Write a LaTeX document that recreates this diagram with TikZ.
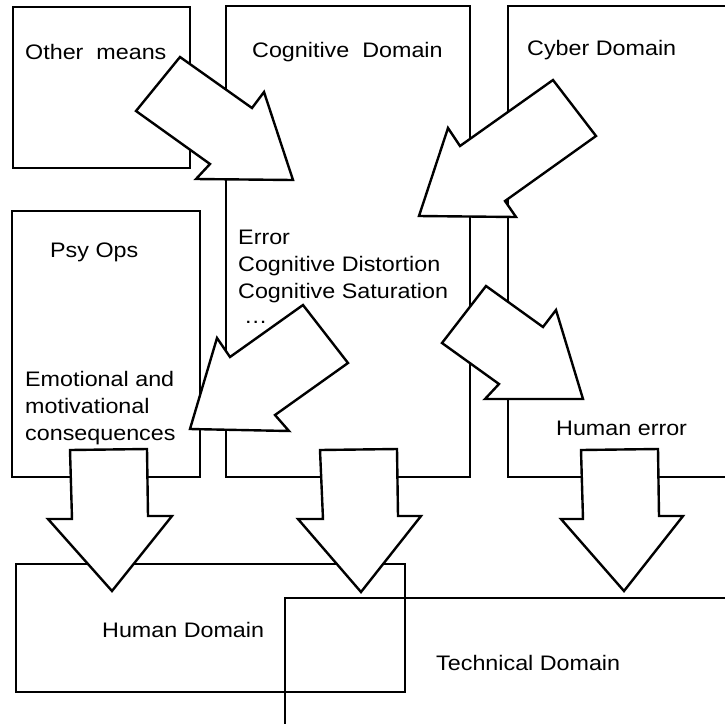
\documentclass[tikz,border=0pt]{standalone}
\usepackage{fontspec}
\setmainfont{Liberation Sans}[FakeStretch=1.11]
\begin{document}
\begin{tikzpicture}[x=1pt,y=-1pt,
  box/.style={line width=1.2pt},
  blockarrow/.style={draw=black, fill=white, line width=2.4pt, line join=miter},
  lbl/.style={anchor=base west, inner sep=0pt, font=\fontsize{21}{26}\selectfont}]
\useasboundingbox (0,0) rectangle (725,724);
% boxes
\draw[box] (13,7) rectangle (190,168);
\draw[box] (226,6) rectangle (470,477);
\draw[box] (725,6) -- (508,6) -- (508,477) -- (725,477);
\draw[box] (12,211) rectangle (200,477);
\draw[box] (16,564) rectangle (405,692);
\draw[box] (725,598) -- (285,598) -- (285,724);
% labels
\node[lbl] (other) at (25,59) {Other\ \ means};
\node[lbl] (cog) at (252,57) {Cognitive\ \ Domain};
\node[lbl] (cyber) at (527,55) {Cyber Domain};
\node[lbl] (psy) at (50,257) {Psy Ops};
\node[lbl] (err1) at (238,244) {Error};
\node[lbl] (err2) at (238,271) {Cognitive Distortion};
\node[lbl] (err3) at (238,298) {Cognitive Saturation};
\node[lbl] (err4) at (244,323) {…};
\node[lbl] (emo1) at (25,386) {Emotional and};
\node[lbl] (emo2) at (25,413) {motivational};
\node[lbl] (emo3) at (25,440) {consequences};
\node[lbl] (herr) at (556,435) {Human error};
\node[lbl] (human) at (102,637) {Human Domain};
\node[lbl] (tech) at (436,670) {Technical Domain};
% block arrows
\filldraw[blockarrow] (180,57) -- (252,108) -- (264,92) -- (293,180) -- (196,179) -- (210,164) -- (136,111) -- cycle;
\filldraw[blockarrow] (553,80) -- (596,136) -- (505,201) -- (516,217) -- (419,216) -- (448,128) -- (460,146) -- cycle;
\filldraw[blockarrow] (486,286) -- (543,327) -- (556,310) -- (583,399) -- (485,399) -- (499,384) -- (442,343) -- cycle;
\filldraw[blockarrow] (303,305) -- (348,363) -- (275,415) -- (289,431) -- (190,429) -- (217,338) -- (230,357) -- cycle;
\filldraw[blockarrow] (70,450) -- (147,449) -- (148,516) -- (172,516) -- (112,591) -- (48,519) -- (72,519) -- cycle;
\filldraw[blockarrow] (320,450) -- (397,449) -- (398,516) -- (421,516) -- (361,592) -- (298,519) -- (323,519) -- cycle;
\filldraw[blockarrow] (581,450) -- (658,449) -- (659,516) -- (683,516) -- (624,591) -- (561,519) -- (583,519) -- cycle;
\end{tikzpicture}
\end{document}
